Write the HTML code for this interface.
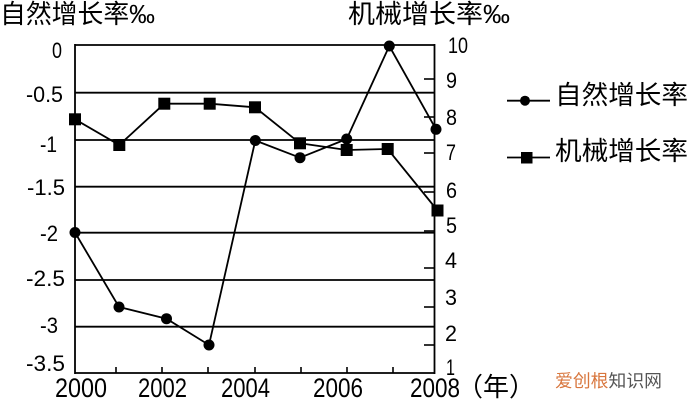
<!DOCTYPE html>
<html>
<head>
<meta charset="utf-8">
<style>
html,body{margin:0;padding:0;background:#fff;}
svg{display:block;}
.num{font-family:"Liberation Sans",sans-serif;fill:#000;}
.cjk{font-family:"Liberation Sans","Noto Sans CJK SC",sans-serif;fill:#000;}
</style>
</head>
<body>
<svg width="688" height="400" viewBox="0 0 688 400" xmlns="http://www.w3.org/2000/svg">
<rect x="0" y="0" width="688" height="400" fill="#ffffff"/>

<!-- titles -->
<text class="cjk" x="0" y="23" font-size="26" textLength="155" lengthAdjust="spacingAndGlyphs">自然增长率‰</text>
<text class="cjk" x="348" y="23" font-size="26" textLength="162" lengthAdjust="spacingAndGlyphs">机械增长率‰</text>

<!-- gridlines -->
<g stroke="#000" stroke-width="1.8">
<line x1="75" y1="45" x2="434.5" y2="45"/>
<line x1="75" y1="92.7" x2="434.5" y2="92.7"/>
<line x1="75" y1="140" x2="434.5" y2="140"/>
<line x1="75" y1="186.7" x2="434.5" y2="186.7"/>
<line x1="75" y1="232.7" x2="434.5" y2="232.7"/>
<line x1="75" y1="280" x2="434.5" y2="280"/>
<line x1="75" y1="326.7" x2="434.5" y2="326.7"/>
<line x1="75" y1="373" x2="434.5" y2="373"/>
<line x1="75" y1="44" x2="75" y2="374"/>
<line x1="434.5" y1="44" x2="434.5" y2="374"/>
</g>
<!-- bottom ticks -->
<g stroke="#000" stroke-width="1.6">
<line x1="116" y1="367" x2="116" y2="373"/>
<line x1="162" y1="367" x2="162" y2="373"/>
<line x1="208" y1="367" x2="208" y2="373"/>
<line x1="255" y1="367" x2="255" y2="373"/>
<line x1="301" y1="367" x2="301" y2="373"/>
<line x1="347" y1="367" x2="347" y2="373"/>
<line x1="393" y1="367" x2="393" y2="373"/>
</g>
<!-- right ticks -->
<g stroke="#000" stroke-width="1.6">
<line x1="424" y1="79" x2="434" y2="79"/>
<line x1="424" y1="117" x2="434" y2="117"/>
<line x1="424" y1="153" x2="434" y2="153"/>
<line x1="424" y1="192" x2="434" y2="192"/>
<line x1="424" y1="231" x2="434" y2="231"/>
<line x1="424" y1="268" x2="434" y2="268"/>
<line x1="424" y1="307" x2="434" y2="307"/>
<line x1="424" y1="345" x2="434" y2="345"/>
</g>

<!-- left labels -->
<g class="num" font-size="22">
<text x="52" y="58" textLength="10" lengthAdjust="spacingAndGlyphs">0</text>
<text x="26" y="102" textLength="37" lengthAdjust="spacingAndGlyphs">-0.5</text>
<text x="40" y="152" textLength="17" lengthAdjust="spacingAndGlyphs">-1</text>
<text x="27" y="195" textLength="38" lengthAdjust="spacingAndGlyphs">-1.5</text>
<text x="40" y="241" textLength="18" lengthAdjust="spacingAndGlyphs">-2</text>
<text x="26" y="286" textLength="39" lengthAdjust="spacingAndGlyphs">-2.5</text>
<text x="40" y="333" textLength="18" lengthAdjust="spacingAndGlyphs">-3</text>
<text x="26" y="371" textLength="39" lengthAdjust="spacingAndGlyphs">-3.5</text>
</g>

<!-- right labels -->
<g class="num" font-size="22">
<text x="448" y="53" textLength="20" lengthAdjust="spacingAndGlyphs">10</text>
<text x="446" y="88" textLength="11" lengthAdjust="spacingAndGlyphs">9</text>
<text x="446" y="125" textLength="11" lengthAdjust="spacingAndGlyphs">8</text>
<text x="446" y="160" textLength="10" lengthAdjust="spacingAndGlyphs">7</text>
<text x="446" y="198" textLength="11" lengthAdjust="spacingAndGlyphs">6</text>
<text x="446" y="233" textLength="11" lengthAdjust="spacingAndGlyphs">5</text>
<text x="445" y="268" textLength="12" lengthAdjust="spacingAndGlyphs">4</text>
<text x="445" y="305" textLength="12" lengthAdjust="spacingAndGlyphs">3</text>
<text x="445" y="341" textLength="12" lengthAdjust="spacingAndGlyphs">2</text>
<text x="446" y="375" textLength="9" lengthAdjust="spacingAndGlyphs">1</text>
</g>

<!-- x labels -->
<g class="num" font-size="27">
<text x="55" y="397" textLength="52" lengthAdjust="spacingAndGlyphs">2000</text>
<text x="138" y="397" textLength="49" lengthAdjust="spacingAndGlyphs">2002</text>
<text x="221" y="397" textLength="49" lengthAdjust="spacingAndGlyphs">2004</text>
<text x="313" y="397" textLength="50" lengthAdjust="spacingAndGlyphs">2006</text>
<text x="410" y="397" textLength="50" lengthAdjust="spacingAndGlyphs">2008</text>
</g>
<text class="cjk" x="457" y="396" font-size="26">（年）</text>

<!-- machine series -->
<polyline fill="none" stroke="#000" stroke-width="1.8" points="75,119.3 119.3,145 164.3,103.7 209.7,103.7 255,107.3 300,143.3 346.7,150 387.7,149 437.5,210.5"/>
<g fill="#000">
<rect x="69" y="113.3" width="12" height="12"/>
<rect x="113.3" y="139" width="12" height="12"/>
<rect x="158.3" y="97.7" width="12" height="12"/>
<rect x="203.7" y="97.7" width="12" height="12"/>
<rect x="249" y="101.3" width="12" height="12"/>
<rect x="294" y="137.3" width="12" height="12"/>
<rect x="340.7" y="144" width="12" height="12"/>
<rect x="381.7" y="143" width="12" height="12"/>
<rect x="431.5" y="204.5" width="12" height="12"/>
</g>

<!-- natural series -->
<polyline fill="none" stroke="#000" stroke-width="1.8" points="75,232.5 119,307 166.5,318.7 209,345 255.3,140.5 300,157.7 346.7,139 389.3,46 436,129.3"/>
<g fill="#000">
<circle cx="75" cy="232.5" r="5.5"/>
<circle cx="119" cy="307" r="5.5"/>
<circle cx="166.5" cy="318.7" r="5.5"/>
<circle cx="209" cy="345" r="5.5"/>
<circle cx="255.3" cy="140.5" r="5.5"/>
<circle cx="300" cy="157.7" r="5.5"/>
<circle cx="346.7" cy="139" r="5.5"/>
<circle cx="389.3" cy="46" r="5.5"/>
<circle cx="436" cy="129.3" r="5.5"/>
</g>

<!-- legend -->
<line x1="507" y1="100.7" x2="550" y2="100.7" stroke="#000" stroke-width="1.8"/>
<circle cx="525" cy="100.7" r="5" fill="#000"/>
<text class="cjk" x="555" y="104" font-size="26" textLength="133" lengthAdjust="spacingAndGlyphs">自然增长率</text>
<line x1="507" y1="157.5" x2="550" y2="157.5" stroke="#000" stroke-width="1.8"/>
<rect x="521" y="152" width="11.5" height="11.5" fill="#000"/>
<text class="cjk" x="555" y="160" font-size="26" textLength="133" lengthAdjust="spacingAndGlyphs">机械增长率</text>

<!-- watermark -->
<text x="555" y="387" font-size="17.5" font-family="'Liberation Sans','Noto Sans CJK SC',sans-serif" textLength="107" lengthAdjust="spacingAndGlyphs"><tspan fill="#d8763d">爱创根</tspan><tspan fill="#555555">知识网</tspan></text>
</svg>
</body>
</html>
